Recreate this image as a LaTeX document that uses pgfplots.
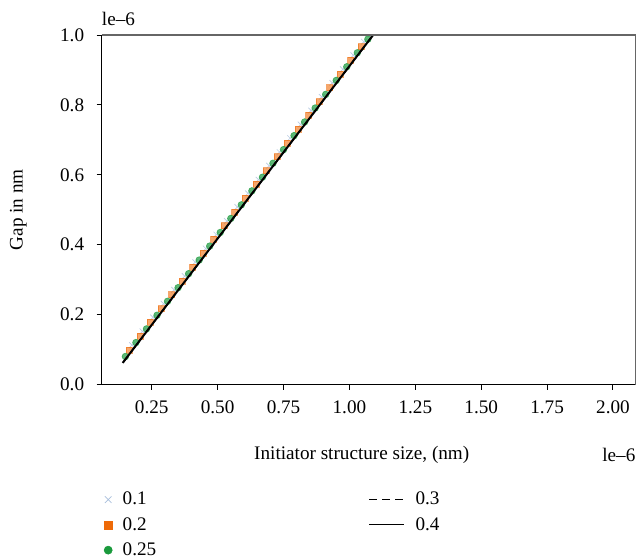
\documentclass[border=0pt]{standalone}
\usepackage{pgfplots}
\pgfplotsset{compat=1.18}
\usepackage{fontspec}
\setmainfont{Liberation Serif}
\definecolor{cblue}{HTML}{A9BFDC}
\definecolor{corange}{HTML}{EE6A08}
\definecolor{cgreen}{HTML}{1A9A3C}
\pgfplotsset{
  marklegend/.style={legend image code/.code={\path (0pt,-3pt) (12pt,3pt); \draw[##1] plot coordinates {(5pt,0pt)};}},
  linelegend/.style={legend image code/.code={\path (0pt,0pt) (26pt,0pt); \draw[##1] (0pt,0pt) -- (21pt,0pt);}},
}
\begin{document}
\begin{tikzpicture}[font=\fontsize{11.5}{13.8}\selectfont]
\useasboundingbox (-61pt,-104.7pt) rectangle (322.4pt,230.7pt);
\begin{axis}[
  scale only axis, width=320.4pt, height=209.7pt,
  at={(0,0)}, anchor=south west,
  xmin=0.06, xmax=2.086, ymin=0, ymax=1.0,
  xtick={0.25,0.5,0.75,1.0,1.25,1.5,1.75,2.0},
  ytick={0,0.2,0.4,0.6,0.8,1.0},
  xticklabel style={yshift=-3.5pt, /pgf/number format/.cd, fixed, fixed zerofill, precision=2},
  yticklabel style={xshift=-4pt, /pgf/number format/.cd, fixed, fixed zerofill, precision=1},
  /pgf/number format/assume math mode=true,
  tick pos=left, tick align=outside, major tick length=3pt,
  tick style={black, line width=0.6pt},
  axis line style={black, line width=0.6pt},
  clip mode=individual,
  xlabel={Initiator structure size, (nm)},
  ylabel={Gap in nm},
  xlabel style={at={(axis description cs:0.487,-0.202)}, anchor=center},
  ylabel style={at={(axis description cs:-0.156,0.5)}, anchor=center},
  legend columns=2,
  legend style={draw=none, fill=none, at={(axis description cs:-0.014,-0.29)}, anchor=north west,
    nodes={inner sep=1.5pt}, row sep=3pt,
    /tikz/column 2/.style={column sep=126pt}},
  legend cell align=left,
]
% legend images
\addlegendimage{only marks, mark=x, mark size=2.8pt, color=cblue, marklegend}
\addlegendentry{0.1}
\addlegendimage{black, line width=0.6pt, dash pattern=on 4.8pt off 3pt, linelegend}
\addlegendentry{0.3}
\addlegendimage{only marks, mark=square*, mark size=2.4pt, color=corange, marklegend}
\addlegendentry{0.2}
\addlegendimage{black, line width=0.6pt, linelegend}
\addlegendentry{0.4}
\addlegendimage{only marks, mark=*, mark size=2.4pt, color=cgreen, marklegend}
\addlegendentry{0.25}
% data
\addplot[forget plot, only marks, mark=x, mark size=2.4pt, color=cblue, opacity=0.8] coordinates {
(0.175,0.113) (0.215,0.152) (0.255,0.192) (0.295,0.231) (0.335,0.271) (0.375,0.310)
(0.415,0.350) (0.455,0.389) (0.495,0.429) (0.535,0.468) (0.575,0.508) (0.615,0.547)
(0.655,0.586) (0.695,0.626) (0.735,0.665) (0.775,0.705) (0.815,0.744) (0.855,0.784)
(0.895,0.823) (0.935,0.863) (0.975,0.902) (1.015,0.942) (1.055,0.981)};
\addplot[forget plot, only marks, mark=square*, mark size=1.8pt, color=corange, opacity=0.6] coordinates {
(0.165,0.099) (0.205,0.138) (0.245,0.178) (0.285,0.217) (0.325,0.257) (0.365,0.296)
(0.405,0.336) (0.445,0.375) (0.485,0.415) (0.525,0.454) (0.565,0.494) (0.605,0.533)
(0.645,0.573) (0.685,0.612) (0.725,0.652) (0.765,0.691) (0.805,0.731) (0.845,0.770)
(0.885,0.809) (0.925,0.849) (0.965,0.888) (1.005,0.928) (1.045,0.967)};
\addplot[forget plot, only marks, mark=*, mark size=2.0pt, color=cgreen, opacity=0.7] coordinates {
(0.15,0.080) (0.19,0.120) (0.23,0.159) (0.27,0.198) (0.31,0.238) (0.35,0.277)
(0.39,0.317) (0.43,0.356) (0.47,0.396) (0.51,0.435) (0.55,0.475) (0.59,0.514)
(0.63,0.554) (0.67,0.593) (0.71,0.633) (0.75,0.672) (0.79,0.712) (0.83,0.751)
(0.87,0.791) (0.91,0.830) (0.95,0.870) (0.99,0.909) (1.03,0.949) (1.07,0.988)};
\addplot[forget plot, black, line width=0.9pt, dash pattern=on 4.8pt off 3pt] coordinates {
(0.14,0.062) (0.40,0.319) (0.70,0.615) (1.09,1.000)};
\addplot[forget plot, black, line width=1.2pt] coordinates {
(0.14,0.062) (0.40,0.319) (0.70,0.615) (1.09,1.000)};
\draw[black!60, line width=0.9pt] (rel axis cs:0,1) -- (rel axis cs:1,1) -- (rel axis cs:1,0);
\node[anchor=east, inner sep=0pt] at (axis description cs:1,-0.202) {le–6};
\node[anchor=base west, inner sep=0pt] at ([yshift=6pt]axis description cs:0,1) {le–6};
\end{axis}
\end{tikzpicture}
\end{document}
